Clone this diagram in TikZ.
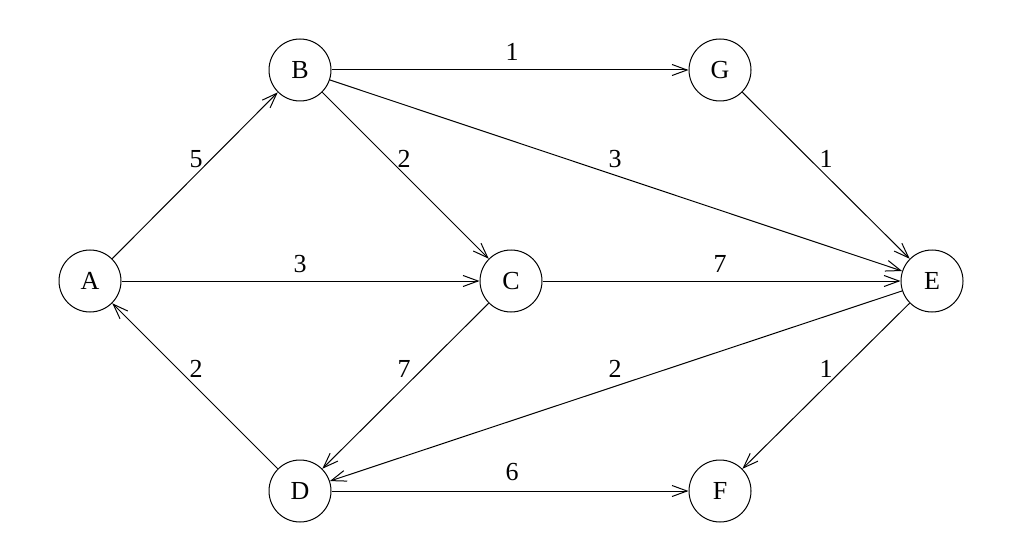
\documentclass[tikz,border=0pt]{standalone}
\usepackage{fontspec}
\setmainfont{Liberation Serif}
\usetikzlibrary{arrows.meta}
\begin{document}
\begin{tikzpicture}[x=1pt,y=-1pt,
  vtx/.style={draw,circle,line width=1pt,minimum size=62pt,inner sep=0pt,font=\fontsize{26}{26}\selectfont},
  wt/.style={font=\fontsize{26}{26}\selectfont,inner sep=0pt},
  arc/.style={line width=1pt,-{Straight Barb[length=15pt,width=11pt,line width=1pt]}}]
\useasboundingbox (0,0) rectangle (1024,545);
\node[vtx] (A) at (90,281) {A};
\node[vtx] (B) at (300,70) {B};
\node[vtx] (G) at (720,70) {G};
\node[vtx] (C) at (511,281) {C};
\node[vtx] (E) at (932,281) {E};
\node[vtx] (D) at (300,491) {D};
\node[vtx] (F) at (720,491) {F};
\draw[arc] (A) -- (B);
\draw[arc] (B) -- (G);
\draw[arc] (B) -- (C);
\draw[arc] (B) -- (E);
\draw[arc] (G) -- (E);
\draw[arc] (A) -- (C);
\draw[arc] (C) -- (E);
\draw[arc] (D) -- (A);
\draw[arc] (C) -- (D);
\draw[arc] (E) -- (D);
\draw[arc] (E) -- (F);
\draw[arc] (D) -- (F);
\node[wt] (wAB) at (196,159) {5};
\node[wt] (wBG) at (512,52) {1};
\node[wt] (wBC) at (404,159) {2};
\node[wt] (wBE) at (615,159) {3};
\node[wt] (wGE) at (826,159) {1};
\node[wt] (wAC) at (300,264) {3};
\node[wt] (wCE) at (720,264) {7};
\node[wt] (wDA) at (196,369) {2};
\node[wt] (wCD) at (404,369) {7};
\node[wt] (wED) at (615,369) {2};
\node[wt] (wEF) at (826,369) {1};
\node[wt] (wDF) at (512,472) {6};
\end{tikzpicture}
\end{document}
